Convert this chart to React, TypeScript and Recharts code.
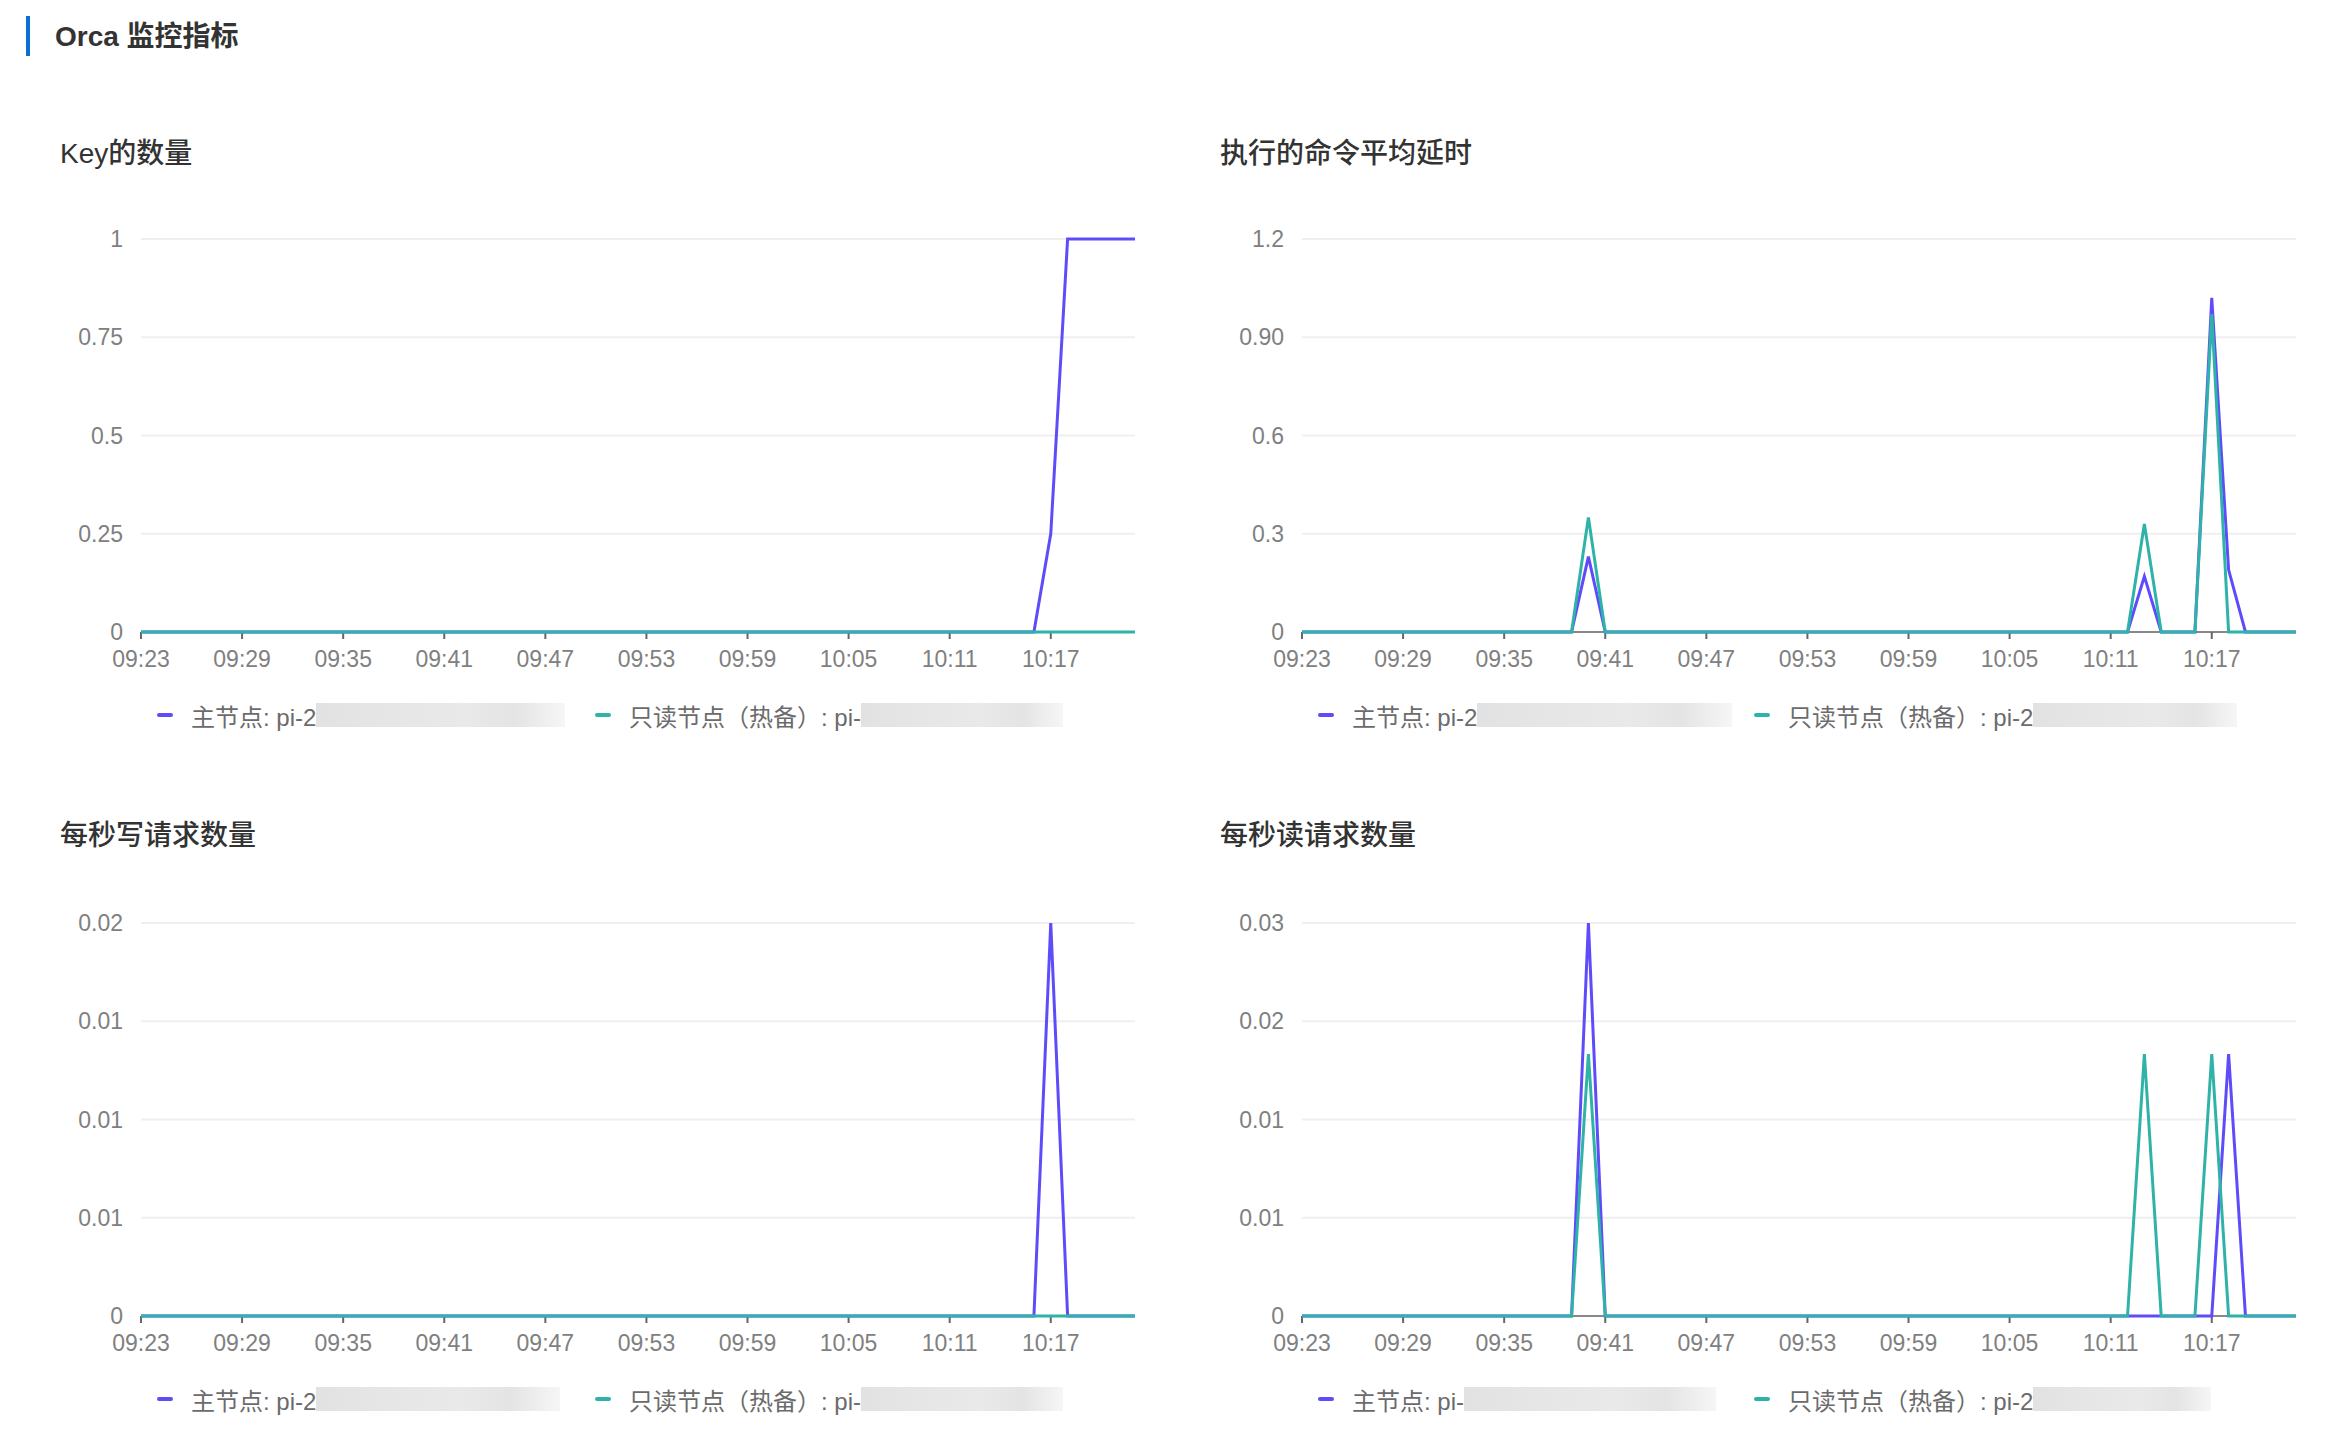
import React from 'react';
import { LineChart, Line, XAxis, YAxis, CartesianGrid } from 'recharts';

// Minute-by-minute sample times shared by all four panels
const times = [
  '09:23', '09:24', '09:25', '09:26', '09:27', '09:28', '09:29', '09:30', '09:31', '09:32',
  '09:33', '09:34', '09:35', '09:36', '09:37', '09:38', '09:39', '09:40', '09:41', '09:42',
  '09:43', '09:44', '09:45', '09:46', '09:47', '09:48', '09:49', '09:50', '09:51', '09:52',
  '09:53', '09:54', '09:55', '09:56', '09:57', '09:58', '09:59', '10:00', '10:01', '10:02',
  '10:03', '10:04', '10:05', '10:06', '10:07', '10:08', '10:09', '10:10', '10:11', '10:12',
  '10:13', '10:14', '10:15', '10:16', '10:17', '10:18', '10:19', '10:20', '10:21', '10:22',
];

const xTicks = ['09:23', '09:29', '09:35', '09:41', '09:47', '09:53', '09:59', '10:05', '10:11', '10:17'];

// Key的数量
const keyPrimary = [
  0, 0, 0, 0, 0, 0, 0, 0, 0, 0,
  0, 0, 0, 0, 0, 0, 0, 0, 0, 0,
  0, 0, 0, 0, 0, 0, 0, 0, 0, 0,
  0, 0, 0, 0, 0, 0, 0, 0, 0, 0,
  0, 0, 0, 0, 0, 0, 0, 0, 0, 0,
  0, 0, 0, 0, 0.25, 1, 1, 1, 1, 1,
];
const keyStandby = [
  0, 0, 0, 0, 0, 0, 0, 0, 0, 0,
  0, 0, 0, 0, 0, 0, 0, 0, 0, 0,
  0, 0, 0, 0, 0, 0, 0, 0, 0, 0,
  0, 0, 0, 0, 0, 0, 0, 0, 0, 0,
  0, 0, 0, 0, 0, 0, 0, 0, 0, 0,
  0, 0, 0, 0, 0, 0, 0, 0, 0, 0,
];
const keyTicks = [0, 0.25, 0.5, 0.75, 1];
const keyTickLabels = ['0', '0.25', '0.5', '0.75', '1'];

// 执行的命令平均延时
const latencyPrimary = [
  0, 0, 0, 0, 0, 0, 0, 0, 0, 0,
  0, 0, 0, 0, 0, 0, 0, 0.23, 0, 0,
  0, 0, 0, 0, 0, 0, 0, 0, 0, 0,
  0, 0, 0, 0, 0, 0, 0, 0, 0, 0,
  0, 0, 0, 0, 0, 0, 0, 0, 0, 0,
  0.17, 0, 0, 0, 1.02, 0.19, 0, 0, 0, 0,
];
const latencyStandby = [
  0, 0, 0, 0, 0, 0, 0, 0, 0, 0,
  0, 0, 0, 0, 0, 0, 0, 0.35, 0, 0,
  0, 0, 0, 0, 0, 0, 0, 0, 0, 0,
  0, 0, 0, 0, 0, 0, 0, 0, 0, 0,
  0, 0, 0, 0, 0, 0, 0, 0, 0, 0,
  0.33, 0, 0, 0, 0.97, 0, 0, 0, 0, 0,
];
const latencyTicks = [0, 0.3, 0.6, 0.9, 1.2];
const latencyTickLabels = ['0', '0.3', '0.6', '0.90', '1.2'];

// 每秒写请求数量
const writePrimary = [
  0, 0, 0, 0, 0, 0, 0, 0, 0, 0,
  0, 0, 0, 0, 0, 0, 0, 0, 0, 0,
  0, 0, 0, 0, 0, 0, 0, 0, 0, 0,
  0, 0, 0, 0, 0, 0, 0, 0, 0, 0,
  0, 0, 0, 0, 0, 0, 0, 0, 0, 0,
  0, 0, 0, 0, 0.02, 0, 0, 0, 0, 0,
];
const writeStandby = [
  0, 0, 0, 0, 0, 0, 0, 0, 0, 0,
  0, 0, 0, 0, 0, 0, 0, 0, 0, 0,
  0, 0, 0, 0, 0, 0, 0, 0, 0, 0,
  0, 0, 0, 0, 0, 0, 0, 0, 0, 0,
  0, 0, 0, 0, 0, 0, 0, 0, 0, 0,
  0, 0, 0, 0, 0, 0, 0, 0, 0, 0,
];
const writeTicks = [0, 0.005, 0.01, 0.015, 0.02];
const writeTickLabels = ['0', '0.01', '0.01', '0.01', '0.02'];

// 每秒读请求数量
const readPrimary = [
  0, 0, 0, 0, 0, 0, 0, 0, 0, 0,
  0, 0, 0, 0, 0, 0, 0, 0.03, 0, 0,
  0, 0, 0, 0, 0, 0, 0, 0, 0, 0,
  0, 0, 0, 0, 0, 0, 0, 0, 0, 0,
  0, 0, 0, 0, 0, 0, 0, 0, 0, 0,
  0, 0, 0, 0, 0, 0.02, 0, 0, 0, 0,
];
const readStandby = [
  0, 0, 0, 0, 0, 0, 0, 0, 0, 0,
  0, 0, 0, 0, 0, 0, 0, 0.02, 0, 0,
  0, 0, 0, 0, 0, 0, 0, 0, 0, 0,
  0, 0, 0, 0, 0, 0, 0, 0, 0, 0,
  0, 0, 0, 0, 0, 0, 0, 0, 0, 0,
  0.02, 0, 0, 0, 0.02, 0, 0, 0, 0, 0,
];
const readTicks = [0, 0.0075, 0.015, 0.0225, 0.03];
const readTickLabels = ['0', '0.01', '0.01', '0.02', '0.03'];

const PRIMARY_COLOR = '#5e4cfa';
const STANDBY_COLOR = '#2fb3a8';
const FONT = "'Liberation Sans', 'Noto Sans CJK SC', sans-serif";

type LegendItem = { x: number; name: string; color: string; mask: number };

type PanelProps = {
  title: string;
  titleX: number;
  titleY: number;
  chartLeft: number;
  chartTop: number;
  chartWidth: number;
  plotLeft: number;
  plotRight: number;
  primary: number[];
  standby: number[];
  ticks: number[];
  tickLabels: string[];
  legendY: number;
  legend: LegendItem[];
};

function Panel(p: PanelProps) {
  const rows = times.map((t, i) => ({ time: t, primary: p.primary[i], standby: p.standby[i] }));
  const yAxisWidth = p.plotLeft - p.chartLeft;
  const rightMargin = p.chartLeft + p.chartWidth - p.plotRight;
  // series are stacked above the axis line so the zero baseline shows the series colour
  const lineLayer: any = { zIndex: 600 };
  const axisLayer: any = { zIndex: 300 };
  return (
    <>
      <div
        style={{
          position: 'absolute',
          left: p.titleX,
          top: p.titleY - 16,
          height: 32,
          lineHeight: '32px',
          fontSize: 28,
          fontWeight: 500,
          color: '#333',
          fontFamily: FONT,
          whiteSpace: 'nowrap',
        }}
      >
        {p.title}
      </div>
      <div style={{ position: 'absolute', left: p.chartLeft, top: p.chartTop }}>
        <LineChart
          width={p.chartWidth}
          height={480}
          data={rows}
          margin={{ top: 39, right: rightMargin, bottom: 18, left: 0 }}
        >
          <CartesianGrid vertical={false} stroke="#efefef" strokeWidth={2} />
          <XAxis
            {...axisLayer}
            dataKey="time"
            ticks={xTicks}
            interval={0}
            height={30}
            axisLine={{ stroke: '#666', strokeWidth: 1.5 }}
            tickLine={{ stroke: '#666', strokeWidth: 2 }}
            tickSize={7}
            tickMargin={12}
            tick={{ fill: '#808080', fontSize: 23, fontFamily: FONT }}
          />
          <YAxis
            width={yAxisWidth}
            domain={[0, p.ticks[p.ticks.length - 1]]}
            ticks={p.ticks}
            interval={0}
            axisLine={false}
            tickLine={false}
            tickMargin={12}
            tickFormatter={(v: number) => p.tickLabels[p.ticks.indexOf(v)] ?? String(v)}
            tick={{ fill: '#808080', fontSize: 23, fontFamily: FONT }}
          />
          <Line
            {...lineLayer}
            type="linear"
            dataKey="primary"
            stroke={PRIMARY_COLOR}
            strokeWidth={3}
            dot={false}
            activeDot={false}
            isAnimationActive={false}
          />
          <Line
            {...lineLayer}
            type="linear"
            dataKey="standby"
            stroke={STANDBY_COLOR}
            strokeWidth={3}
            dot={false}
            activeDot={false}
            isAnimationActive={false}
          />
        </LineChart>
      </div>
      {p.legend.map((item) => (
        <div
          key={item.x}
          style={{
            position: 'absolute',
            left: item.x,
            top: p.legendY - 14,
            height: 28,
            display: 'flex',
            alignItems: 'center',
            fontFamily: FONT,
            fontSize: 24,
            color: '#6b6b6b',
            whiteSpace: 'nowrap',
          }}
        >
          <span
            style={{
              display: 'inline-block',
              width: 16,
              height: 4,
              borderRadius: 2,
              background: item.color,
              marginRight: 18,
            }}
          />
          <span>{item.name}</span>
          <span
            style={{
              display: 'inline-block',
              width: item.mask,
              height: 24,
              background:
                'linear-gradient(90deg, #e2e2e2 0%, #e6e6e6 30%, #e9e9e9 60%, #e4e4e4 80%, #f6f6f6 100%)',
            }}
          />
        </div>
      ))}
    </>
  );
}

export default function App() {
  return (
    <div
      style={{
        position: 'absolute',
        left: 0,
        top: 0,
        width: 2338,
        height: 1452,
        background: '#fff',
        overflow: 'hidden',
      }}
    >
      <div style={{ position: 'absolute', left: 26, top: 16, width: 4, height: 40, background: '#0a6fd0' }} />
      <div
        style={{
          position: 'absolute',
          left: 55,
          top: 21,
          height: 32,
          lineHeight: '32px',
          fontSize: 28,
          fontWeight: 700,
          color: '#333',
          fontFamily: FONT,
          whiteSpace: 'nowrap',
        }}
      >
        Orca 监控指标
      </div>

      <Panel
        title="Key的数量"
        titleX={60}
        titleY={154}
        chartLeft={0}
        chartTop={200}
        chartWidth={1150}
        plotLeft={141}
        plotRight={1135}
        primary={keyPrimary}
        standby={keyStandby}
        ticks={keyTicks}
        tickLabels={keyTickLabels}
        legendY={715}
        legend={[
          { x: 157, name: '主节点: pi-2', color: PRIMARY_COLOR, mask: 249 },
          { x: 595, name: '只读节点（热备）: pi-', color: STANDBY_COLOR, mask: 202 },
        ]}
      />
      <Panel
        title="执行的命令平均延时"
        titleX={1220}
        titleY={154}
        chartLeft={1160}
        chartTop={200}
        chartWidth={1156}
        plotLeft={1302}
        plotRight={2296}
        primary={latencyPrimary}
        standby={latencyStandby}
        ticks={latencyTicks}
        tickLabels={latencyTickLabels}
        legendY={715}
        legend={[
          { x: 1318, name: '主节点: pi-2', color: PRIMARY_COLOR, mask: 255 },
          { x: 1754, name: '只读节点（热备）: pi-2', color: STANDBY_COLOR, mask: 204 },
        ]}
      />
      <Panel
        title="每秒写请求数量"
        titleX={60}
        titleY={836}
        chartLeft={0}
        chartTop={884}
        chartWidth={1150}
        plotLeft={141}
        plotRight={1135}
        primary={writePrimary}
        standby={writeStandby}
        ticks={writeTicks}
        tickLabels={writeTickLabels}
        legendY={1399}
        legend={[
          { x: 157, name: '主节点: pi-2', color: PRIMARY_COLOR, mask: 244 },
          { x: 595, name: '只读节点（热备）: pi-', color: STANDBY_COLOR, mask: 202 },
        ]}
      />
      <Panel
        title="每秒读请求数量"
        titleX={1220}
        titleY={836}
        chartLeft={1160}
        chartTop={884}
        chartWidth={1156}
        plotLeft={1302}
        plotRight={2296}
        primary={readPrimary}
        standby={readStandby}
        ticks={readTicks}
        tickLabels={readTickLabels}
        legendY={1399}
        legend={[
          { x: 1318, name: '主节点: pi-', color: PRIMARY_COLOR, mask: 252 },
          { x: 1754, name: '只读节点（热备）: pi-2', color: STANDBY_COLOR, mask: 178 },
        ]}
      />
    </div>
  );
}
